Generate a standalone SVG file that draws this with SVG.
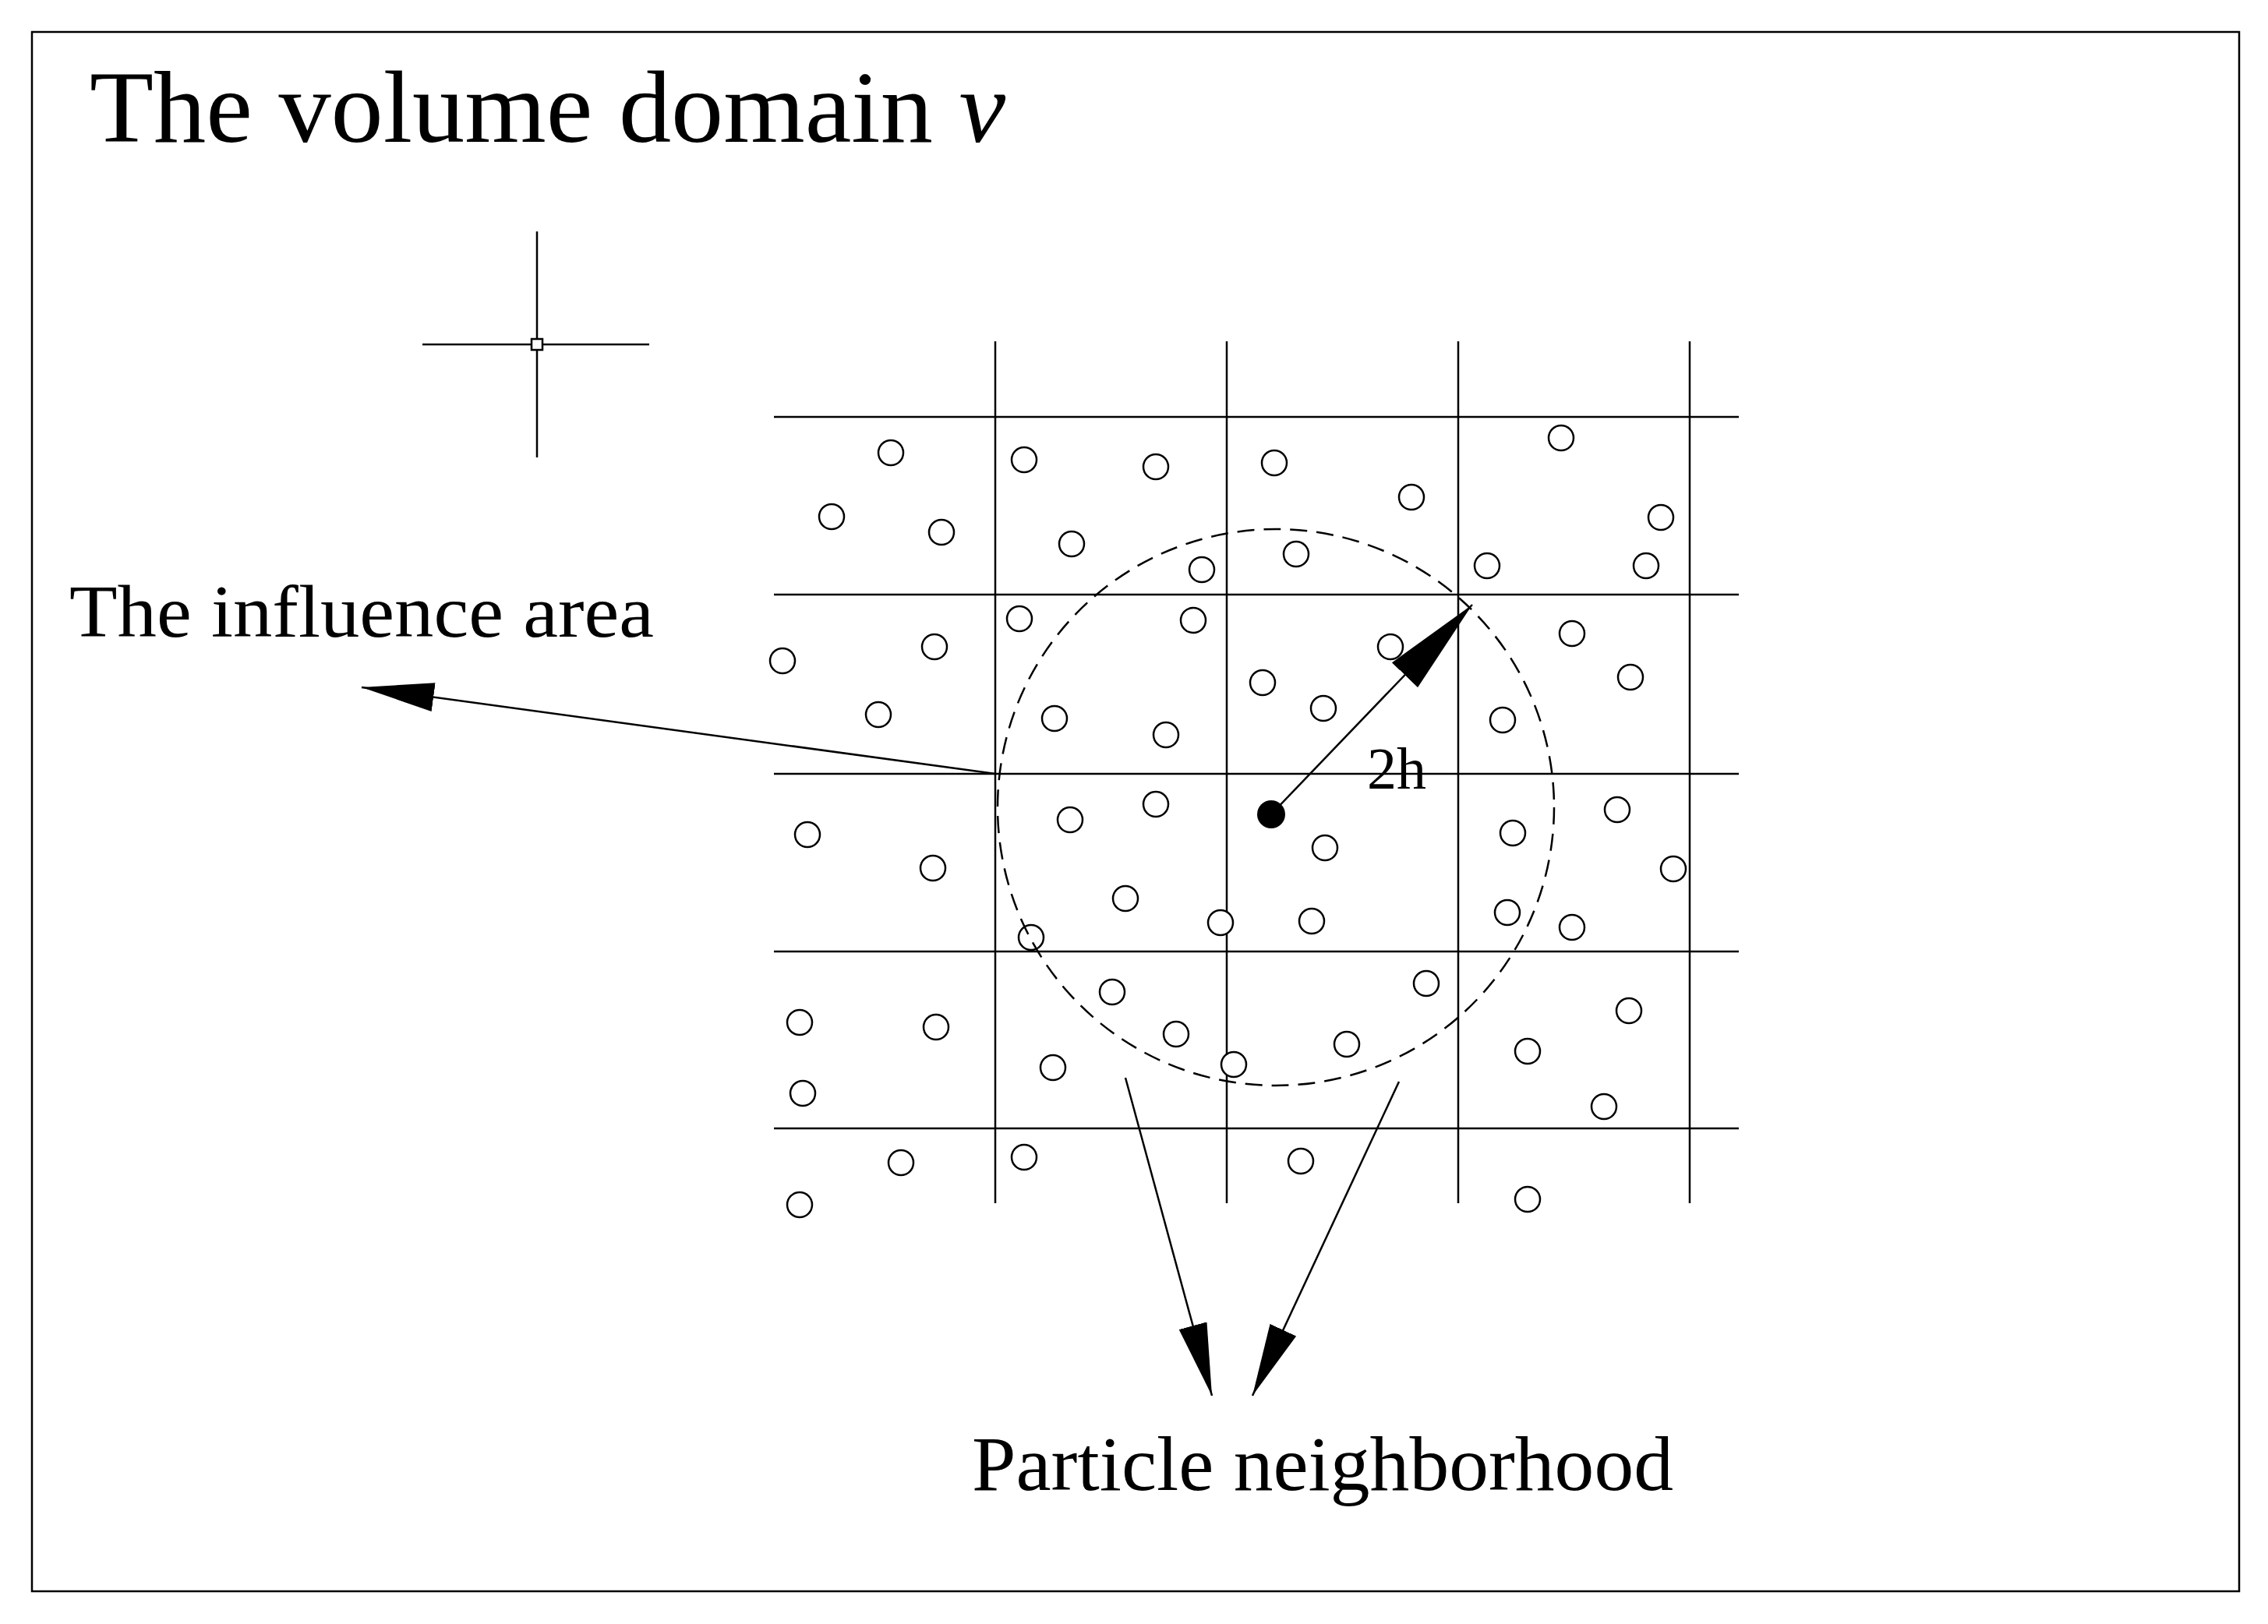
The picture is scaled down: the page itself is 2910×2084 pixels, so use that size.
<svg xmlns="http://www.w3.org/2000/svg" width="2910" height="2084" viewBox="0 0 2910 2084">
<style>
.l{stroke:#000;stroke-width:2.5;fill:none}
.p{stroke:#000;stroke-width:2.5;fill:#fff}
.t{font-family:"Liberation Serif",serif;fill:#000}
</style>
<defs>
<marker id="b" viewBox="0 0 10 10" refX="10" refY="5" markerWidth="93" markerHeight="37" preserveAspectRatio="none" markerUnits="userSpaceOnUse" orient="auto"><path d="M0,0L10,5L0,10z"/></marker>
<marker id="c" viewBox="0 0 10 10" refX="10" refY="5" markerWidth="125" markerHeight="46" preserveAspectRatio="none" markerUnits="userSpaceOnUse" orient="auto"><path d="M0,0L10,5L0,10z"/></marker>
</defs>
<rect width="2910" height="2084" fill="#fff"/>
<rect x="41" y="41" width="2832" height="2001" class="l"/>
<text class="t" x="115" y="182" font-size="132" textLength="1175" lengthAdjust="spacingAndGlyphs">The volume domain <tspan font-style="italic">v</tspan></text>
<g id="crosshair" class="l">
<line x1="689" y1="297" x2="689" y2="587"/><line x1="542" y1="442" x2="833" y2="442"/>
<rect x="682" y="435" width="14" height="14" fill="#fff"/>
</g>
<g id="grid" class="l">
<line x1="1277" y1="438" x2="1277" y2="1544"/><line x1="1574" y1="438" x2="1574" y2="1544"/><line x1="1871" y1="438" x2="1871" y2="1544"/><line x1="2168" y1="438" x2="2168" y2="1544"/>
<line x1="993" y1="535" x2="2231" y2="535"/><line x1="993" y1="763" x2="2231" y2="763"/><line x1="993" y1="993" x2="2231" y2="993"/><line x1="993" y1="1221" x2="2231" y2="1221"/><line x1="993" y1="1448" x2="2231" y2="1448"/>
</g>
<g id="particles" class="p">
<circle cx="1143" cy="581" r="16"/><circle cx="1314" cy="590" r="16"/><circle cx="1483" cy="599" r="16"/><circle cx="1635" cy="594" r="16"/><circle cx="2003" cy="562" r="16"/><circle cx="1811" cy="638" r="16"/><circle cx="1067" cy="663" r="16"/><circle cx="1208" cy="683" r="16"/><circle cx="1375" cy="698" r="16"/><circle cx="1542" cy="731" r="16"/><circle cx="1663" cy="711" r="16"/><circle cx="2131" cy="664" r="16"/><circle cx="1908" cy="726" r="16"/><circle cx="2112" cy="726" r="16"/><circle cx="1308" cy="794" r="16"/><circle cx="1531" cy="796" r="16"/><circle cx="1004" cy="848" r="16"/><circle cx="1199" cy="830" r="16"/><circle cx="1784" cy="830" r="16"/><circle cx="2017" cy="813" r="16"/><circle cx="2092" cy="869" r="16"/><circle cx="1620" cy="876" r="16"/><circle cx="1698" cy="909" r="16"/><circle cx="1127" cy="917" r="16"/><circle cx="1353" cy="922" r="16"/><circle cx="1496" cy="943" r="16"/><circle cx="1928" cy="924" r="16"/><circle cx="1036" cy="1071" r="16"/><circle cx="1373" cy="1052" r="16"/><circle cx="1483" cy="1032" r="16"/><circle cx="1700" cy="1088" r="16"/><circle cx="1941" cy="1069" r="16"/><circle cx="2075" cy="1039" r="16"/><circle cx="2147" cy="1115" r="16"/><circle cx="1197" cy="1114" r="16"/><circle cx="1444" cy="1153" r="16"/><circle cx="1566" cy="1184" r="16"/><circle cx="1683" cy="1182" r="16"/><circle cx="1934" cy="1171" r="16"/><circle cx="2017" cy="1190" r="16"/><circle cx="1323" cy="1203" r="16"/><circle cx="1427" cy="1273" r="16"/><circle cx="1830" cy="1262" r="16"/><circle cx="1026" cy="1312" r="16"/><circle cx="1201" cy="1318" r="16"/><circle cx="1509" cy="1327" r="16"/><circle cx="1728" cy="1340" r="16"/><circle cx="1583" cy="1366" r="16"/><circle cx="1351" cy="1370" r="16"/><circle cx="1960" cy="1349" r="16"/><circle cx="2090" cy="1297" r="16"/><circle cx="1030" cy="1403" r="16"/><circle cx="2058" cy="1420" r="16"/><circle cx="1156" cy="1492" r="16"/><circle cx="1314" cy="1485" r="16"/><circle cx="1669" cy="1490" r="16"/><circle cx="1026" cy="1546" r="16"/><circle cx="1960" cy="1539" r="16"/>
</g>
<g id="influence-circle">
<circle cx="1637" cy="1036" r="357" class="l" stroke-dasharray="22,12"/>
<circle cx="1631" cy="1045" r="18"/>
</g>
<g id="connectors" class="l">
<line x1="1631" y1="1045" x2="1889" y2="776" marker-end="url(#c)"/>
<line x1="1277" y1="993" x2="464" y2="882" marker-end="url(#b)"/>
<line x1="1444" y1="1383" x2="1555" y2="1791" marker-end="url(#b)"/>
<line x1="1795" y1="1388" x2="1607" y2="1791" marker-end="url(#b)"/>
</g>
<text class="t" x="1754" y="1012" font-size="76">2h</text>
<text class="t" x="89" y="817" font-size="96" textLength="750" lengthAdjust="spacingAndGlyphs">The influence area</text>
<text class="t" x="1247" y="1912" font-size="100" textLength="900" lengthAdjust="spacingAndGlyphs">Particle neighborhood</text>
</svg>
